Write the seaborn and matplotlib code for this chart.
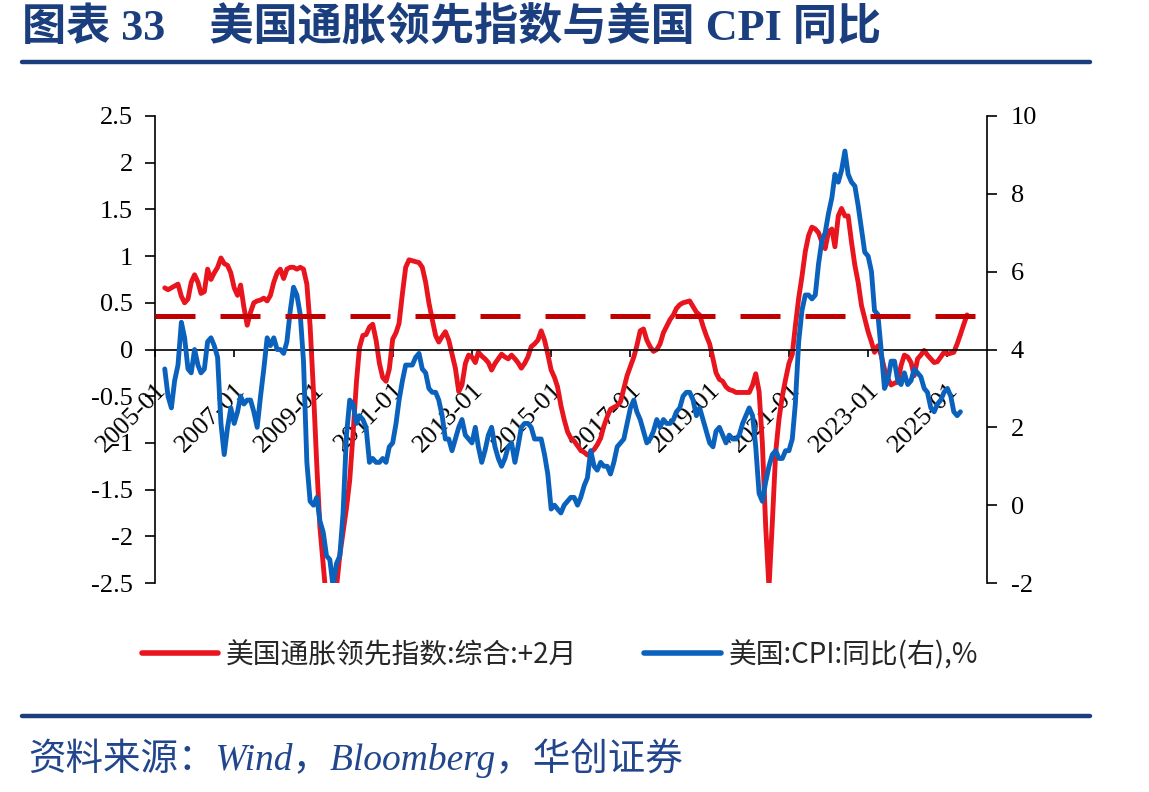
import numpy as np
import pandas as pd
import matplotlib
matplotlib.use('Agg')
import matplotlib.pyplot as plt
from matplotlib.lines import Line2D
import seaborn as sns

# ---------------- data (monthly) ----------------
RED_START = '2005-04-01'    # 美国通胀领先指数:综合 (+2月), left axis
BLUE_START = '2005-04-01'   # 美国 CPI 同比, right axis

red_index = [
    # 2005 Apr-Dec
    0.66, 0.64, 0.66, 0.68, 0.70, 0.57, 0.50, 0.54, 0.72,
    # 2006
    0.80, 0.72, 0.60, 0.62, 0.86, 0.75, 0.82, 0.88, 0.98, 0.92, 0.90, 0.82,
    # 2007
    0.66, 0.58, 0.69, 0.45, 0.26, 0.40, 0.50, 0.52, 0.53, 0.55, 0.52, 0.58,
    # 2008
    0.72, 0.82, 0.86, 0.76, 0.86, 0.88, 0.88, 0.86, 0.88, 0.86, 0.70, 0.25,
    # 2009
    -0.45, -1.25, -1.90, -2.30, -2.70, -3.00, -2.90, -2.55, -2.20, -1.95, -1.70, -1.40,
    # 2010
    -0.90, -0.35, 0.02, 0.15, 0.16, 0.24, 0.27, 0.10, -0.15, -0.30, -0.34, -0.21,
    # 2011
    0.11, 0.18, 0.28, 0.60, 0.88, 0.96, 0.95, 0.94, 0.93, 0.88, 0.72, 0.50,
    # 2012
    0.32, 0.15, 0.08, 0.14, 0.19, 0.10, -0.05, -0.20, -0.45, -0.38, -0.15, -0.06,
    # 2013
    -0.08, -0.14, -0.03, -0.07, -0.10, -0.14, -0.22, -0.15, -0.10, -0.05, -0.08, -0.10,
    # 2014
    -0.06, -0.10, -0.14, -0.20, -0.15, -0.08, 0.03, 0.06, 0.10, 0.20, 0.10, -0.05,
    # 2015
    -0.22, -0.30, -0.40, -0.60, -0.75, -0.88, -0.95, -0.98, -1.03, -1.08, -1.10, -1.13,
    # 2016
    -1.10, -1.07, -1.02, -0.95, -0.82, -0.72, -0.64, -0.62, -0.60, -0.56, -0.42, -0.28,
    # 2017
    -0.18, -0.08, 0.04, 0.20, 0.22, 0.10, 0.03, -0.02, 0.00, 0.06, 0.18, 0.25,
    # 2018
    0.32, 0.37, 0.44, 0.48, 0.50, 0.51, 0.52, 0.46, 0.40, 0.37, 0.25, 0.15,
    # 2019
    0.06, -0.10, -0.25, -0.32, -0.34, -0.40, -0.43, -0.44, -0.46, -0.46, -0.46, -0.46,
    # 2020
    -0.46, -0.38, -0.26, -0.45, -1.00, -1.90, -2.55, -1.85, -1.10, -0.75, -0.50, -0.32,
    # 2021
    -0.15, -0.05, 0.25, 0.55, 0.78, 1.05, 1.22, 1.31, 1.29, 1.25, 1.15, 1.08,
    # 2022
    1.26, 1.29, 1.10, 1.43, 1.51, 1.43, 1.43, 1.15, 0.90, 0.72, 0.47, 0.33,
    # 2023
    0.19, 0.08, -0.03, 0.04, -0.06, -0.21, -0.31, -0.38, -0.36, -0.35, -0.17, -0.06,
    # 2024
    -0.08, -0.14, -0.28, -0.10, -0.06, -0.01, -0.06, -0.10, -0.14, -0.13, -0.08, -0.03,
    # 2025 Jan-Jul
    -0.05, -0.04, -0.03, 0.06, 0.16, 0.27, 0.37,
]

blue_cpi = [
    # 2005 Apr-Dec
    3.5, 2.8, 2.5, 3.2, 3.6, 4.7, 4.3, 3.5, 3.4,
    # 2006
    4.0, 3.6, 3.4, 3.5, 4.2, 4.3, 4.1, 3.8, 2.1, 1.3, 2.0, 2.5,
    # 2007
    2.1, 2.4, 2.8, 2.6, 2.7, 2.7, 2.4, 2.0, 2.8, 3.5, 4.3, 4.1,
    # 2008
    4.3, 4.0, 4.0, 3.9, 4.2, 5.0, 5.6, 5.4, 4.9, 3.7, 1.1, 0.1,
    # 2009
    0.0, 0.2, -0.4, -0.7, -1.3, -1.4, -2.1, -1.5, -1.3, -0.2, 1.8, 2.7,
    # 2010
    2.6, 2.1, 2.3, 2.2, 2.0, 1.1, 1.2, 1.1, 1.1, 1.2, 1.1, 1.5,
    # 2011
    1.6, 2.1, 2.7, 3.2, 3.6, 3.6, 3.6, 3.8, 3.9, 3.5, 3.4, 3.0,
    # 2012
    2.9, 2.9, 2.7, 2.3, 1.7, 1.7, 1.4, 1.7, 2.0, 2.2, 1.8, 1.7,
    # 2013
    1.6, 2.0, 1.5, 1.1, 1.4, 1.8, 2.0, 1.5, 1.2, 1.0, 1.2, 1.5,
    # 2014
    1.6, 1.1, 1.5, 2.0, 2.1, 2.1, 2.0, 1.7, 1.7, 1.7, 1.3, 0.8,
    # 2015
    -0.1, 0.0, -0.1, -0.2, 0.0, 0.1, 0.2, 0.2, 0.0, 0.2, 0.5, 0.7,
    # 2016
    1.4, 1.0, 0.9, 1.1, 1.0, 1.0, 0.8, 1.1, 1.5, 1.6, 1.7, 2.1,
    # 2017
    2.5, 2.7, 2.4, 2.2, 1.9, 1.6, 1.7, 1.9, 2.2, 2.0, 2.2, 2.1,
    # 2018
    2.1, 2.2, 2.4, 2.5, 2.8, 2.9, 2.9, 2.7, 2.3, 2.5, 2.2, 1.9,
    # 2019
    1.6, 1.5, 1.9, 2.0, 1.8, 1.6, 1.8, 1.7, 1.7, 1.8, 2.1, 2.3,
    # 2020
    2.5, 2.3, 1.5, 0.3, 0.1, 0.6, 1.0, 1.3, 1.4, 1.2, 1.2, 1.4,
    # 2021
    1.4, 1.7, 2.6, 4.2, 5.0, 5.4, 5.4, 5.3, 5.4, 6.2, 6.8, 7.0,
    # 2022
    7.5, 7.9, 8.5, 8.3, 8.6, 9.1, 8.5, 8.3, 8.2, 7.7, 7.1, 6.5,
    # 2023
    6.4, 6.0, 5.0, 4.9, 4.0, 3.0, 3.2, 3.7, 3.7, 3.2, 3.1, 3.4,
    # 2024
    3.1, 3.2, 3.5, 3.4, 3.3, 3.0, 2.9, 2.5, 2.4, 2.6, 2.7, 2.9,
    # 2025 Jan-May
    3.0, 2.8, 2.4, 2.3, 2.4,
]

threshold_left = 0.36           # dashed reference level (left axis units)
left_ticks = [-2.5, -2, -1.5, -1, -0.5, 0, 0.5, 1, 1.5, 2, 2.5]
right_ticks = [-2, 0, 2, 4, 6, 8, 10]
xtick_years = list(range(2005, 2026, 2))
xtick_labels = [f'{y}-01' for y in xtick_years]

title_text = '图表 33\u3000美国通胀领先指数与美国 CPI 同比'
legend_labels = ['美国通胀领先指数:综合:+2月', '美国:CPI:同比(右),%']
source_text = '资料来源：Wind，Bloomberg，华创证券'

# ---------------- style ----------------
RED = '#E8141E'
BLUE = '#0A62BD'
DASH = '#C00000'
NAVY = '#1B3F7E'
SRC = '#22468C'

sns.set_style('white')
plt.rcParams['font.family'] = ['Liberation Serif', 'Noto Sans CJK SC', 'DejaVu Sans']
plt.rcParams['axes.unicode_minus'] = False

W, H = 1149, 792
fig = plt.figure(figsize=(W / 100, H / 100), dpi=100)
ax = fig.add_axes([155 / W, 1 - 583 / H, (987 - 155) / W, (583 - 116) / H])
ax2 = ax.twinx()

df_red = pd.DataFrame({'date': pd.date_range(RED_START, periods=len(red_index), freq='MS'),
                       'value': red_index})
df_blue = pd.DataFrame({'date': pd.date_range(BLUE_START, periods=len(blue_cpi), freq='MS'),
                        'value': blue_cpi})

sns.lineplot(data=df_red, x='date', y='value', ax=ax, color=RED, linewidth=3.5,
             legend=False, solid_joinstyle='round')
sns.lineplot(data=df_blue, x='date', y='value', ax=ax2, color=BLUE, linewidth=3.5,
             legend=False, solid_joinstyle='round')

# limits
ax.set_ylim(-2.5, 2.5)
ax2.set_ylim(-2, 10)
ax.set_xlim(pd.Timestamp('2005-01-01'), pd.Timestamp('2026-01-01'))

# dashed reference line (left-axis level mapped to right axis)
r_lo, r_hi = ax2.get_ylim()
l_lo, l_hi = ax.get_ylim()
thr_right = r_lo + (threshold_left - l_lo) / (l_hi - l_lo) * (r_hi - r_lo)
ax2.axhline(thr_right, color=DASH, linewidth=3.6, dashes=(8, 5))

# axes cosmetics
for a in (ax, ax2):
    a.grid(False)
    a.set_xlabel('')
    a.set_ylabel('')
    a.spines['top'].set_visible(False)

ax.spines['right'].set_visible(False)
ax.spines['left'].set_color('black')
ax.spines['left'].set_linewidth(1.2)
ax.spines['bottom'].set_position(('data', 0))
ax.spines['bottom'].set_color('black')
ax.spines['bottom'].set_linewidth(1.2)

ax2.spines['left'].set_visible(False)
ax2.spines['bottom'].set_visible(False)
ax2.spines['right'].set_color('black')
ax2.spines['right'].set_linewidth(1.2)

ax.set_yticks(left_ticks)
ax.set_yticklabels([f'{v:g}' for v in left_ticks])
ax2.set_yticks(right_ticks)
ax2.set_yticklabels([f'{v:g}' for v in right_ticks])

ax.set_xticks([pd.Timestamp(f'{y}-01-01') for y in xtick_years])
ax.set_xticklabels(xtick_labels)

ax.tick_params(axis='y', left=True, direction='out', length=7, width=1.2,
               labelsize=19, pad=9, colors='black')
ax2.tick_params(axis='y', right=True, direction='out', length=7, width=1.2,
                labelsize=19, pad=10, colors='black')
ax.tick_params(axis='x', bottom=True, direction='out', length=5, width=1.2,
               labelsize=19, pad=16, colors='black')
for lbl in ax.get_xticklabels():
    lbl.set_rotation(45)
    lbl.set_ha('right')
    lbl.set_va('top')
    lbl.set_rotation_mode('anchor')

# ---------------- figure decorations ----------------
fig.text(22 / W, 1 - 28 / H, title_text, ha='left', va='center', fontsize=31.8,
         fontweight='bold', color=NAVY,
         family=['Liberation Serif', 'Noto Sans CJK SC'])
fig.add_artist(Line2D([22 / W, 1090 / W], [1 - 62 / H] * 2, color=NAVY, linewidth=3.2,
                      transform=fig.transFigure))
fig.add_artist(Line2D([22 / W, 1090 / W], [1 - 716 / H] * 2, color=NAVY, linewidth=3.2,
                      transform=fig.transFigure))

handles = [Line2D([], [], color=RED, linewidth=4), Line2D([], [], color=BLUE, linewidth=4)]
fig.legend(handles, legend_labels, loc='center', bbox_to_anchor=(560 / W, 1 - 655 / H),
           ncol=2, frameon=False, handlelength=2.75, handletextpad=0.3, columnspacing=2.4,
           prop={'family': ['Noto Sans CJK SC', 'DejaVu Sans'], 'size': 20})

fig.text(28 / W, 1 - 758 / H, source_text, ha='left', va='center', fontsize=27,
         style='italic', color=SRC, family=['Liberation Serif', 'Noto Sans CJK SC'])

fig.savefig('out.png', dpi=100)
